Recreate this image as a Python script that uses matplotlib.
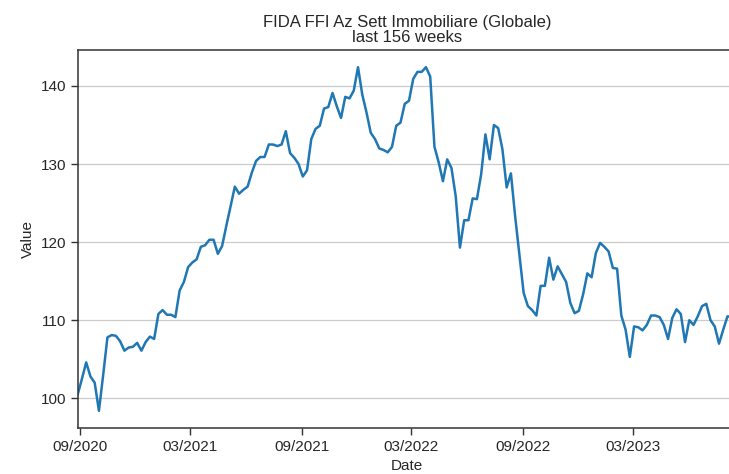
import matplotlib
matplotlib.use("Agg")
import matplotlib.pyplot as plt
import matplotlib.dates as mdates
import pandas as pd

plt.rcParams['font.family'] = ['Liberation Sans', 'DejaVu Sans']

title = "FIDA FFI Az Sett Immobiliare (Globale)\nlast 156 weeks"
start_date = "2020-08-28"
n_weeks = 156

values = [
    100.5, 102.5, 104.6, 102.8, 102.0, 98.4, 103.0, 107.8, 108.1, 108.0,
    107.3, 106.1, 106.5, 106.6, 107.1, 106.1, 107.2, 107.9, 107.6, 110.8,
    111.3, 110.7, 110.7, 110.4, 113.8, 114.9, 116.8, 117.4, 117.8, 119.4,
    119.6, 120.3, 120.3, 118.5, 119.5, 122.1, 124.6, 127.1, 126.2, 126.7,
    127.1, 128.9, 130.4, 130.9, 130.9, 132.5, 132.5, 132.3, 132.5, 134.2,
    131.4, 130.8, 130.0, 128.4, 129.2, 133.2, 134.5, 134.9, 137.1, 137.3,
    139.1, 137.4, 135.9, 138.6, 138.4, 139.4, 142.4, 138.9, 136.6, 134.0,
    133.2, 132.0, 131.8, 131.5, 132.2, 134.9, 135.3, 137.7, 138.1, 140.9,
    141.8, 141.8, 142.4, 141.2, 132.2, 130.2, 127.8, 130.6, 129.5, 125.9,
    119.3, 122.8, 122.8, 125.6, 125.5, 128.7, 133.8, 130.6, 135.0, 134.6,
    131.9, 127.0, 128.8, 123.3, 118.4, 113.5, 111.8, 111.3, 110.6, 114.4,
    114.4, 118.0, 115.2, 116.9, 115.9, 114.9, 112.2, 110.9, 111.2, 113.3,
    116.0, 115.5, 118.6, 119.9, 119.4, 118.8, 116.7, 116.6, 110.6, 108.8,
    105.3, 109.2, 109.1, 108.7, 109.4, 110.6, 110.6, 110.4, 109.4, 107.6,
    110.3, 111.4, 110.8, 107.2, 110.0, 109.4, 110.5, 111.8, 112.1, 110.0,
    109.2, 107.0, 108.8, 110.5, 110.4, 110.9,
]

dates = pd.date_range(start_date, periods=n_weeks, freq="W-FRI")

fig = plt.figure(figsize=(7.29, 4.74), dpi=100)
ax = fig.add_axes([77.7 / 729, 46 / 474, (736 - 77.7) / 729, 378 / 474])

ax.plot(dates, values, color="#1f77b4", linewidth=1.8)
ax.set_xlim(dates[0], dates[-1])
ax.margins(y=0.05)

ax.xaxis.set_major_locator(mdates.MonthLocator(bymonth=[3, 9]))
ax.xaxis.set_major_formatter(mdates.DateFormatter("%m/%Y"))
ax.set_yticks([100, 110, 120, 130, 140])

ax.yaxis.grid(True, color="#cccccc", linewidth=0.9)
ax.xaxis.grid(False)
ax.set_axisbelow(True)

for s in ["left", "bottom", "top", "right"]:
    ax.spines[s].set_color("#333333")
    ax.spines[s].set_linewidth(1.1)

ax.tick_params(axis="both", direction="out", length=5, width=1.0,
               color="#333333", labelsize=11, labelcolor="#262626")

ax.set_title(title, fontsize=12, color="#262626", pad=6, linespacing=1.0)
ax.set_xlabel("Date", fontsize=11, color="#262626")
ax.set_ylabel("Value", fontsize=11, color="#262626")

fig.savefig("out.png", dpi=100)
